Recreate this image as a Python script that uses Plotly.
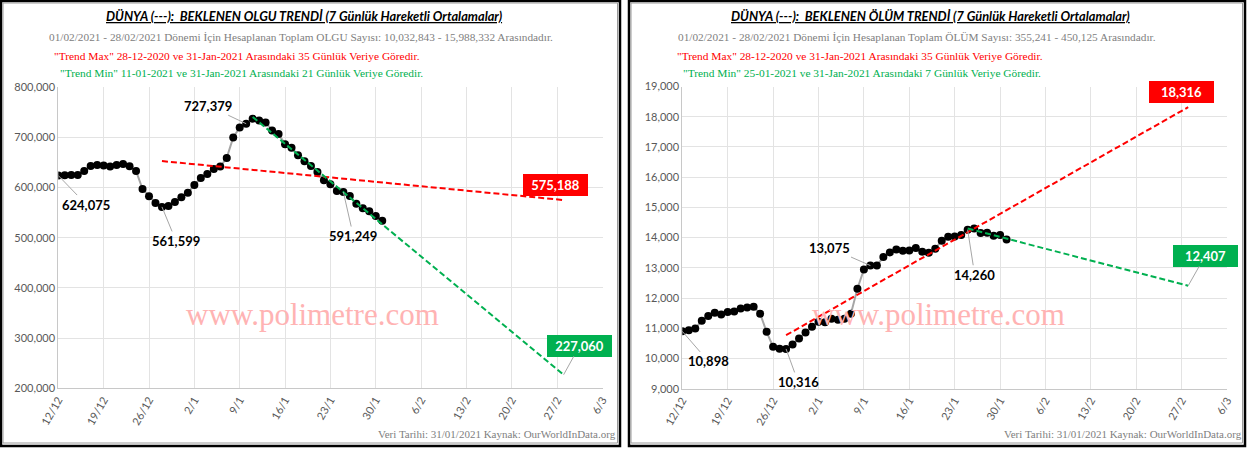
import pandas as pd
import plotly.graph_objects as go

W, H = 1252, 449

# ---------------- data ----------------
dates = pd.date_range("2020-12-12", "2021-01-31", freq="D")

olgu_vals = [624075, 624700, 625000, 625000, 633300, 643300, 645300, 644000, 642000, 645300,
             647300, 642700, 633300, 597300, 582700, 569300, 561599, 563300, 571300, 580700,
             590000, 605300, 619300, 627300, 637300, 642000, 659300, 700000, 720000, 727379,
             737300, 734000, 730000, 714000, 706700, 686700, 679300, 664700, 652700, 643300,
             631300, 614700, 606700, 593300, 591249, 583300, 568000, 558700, 552700, 543300,
             534000]

olum_vals = [10898, 10938, 10993, 11247, 11402, 11512, 11457, 11534, 11556, 11656,
             11689, 11711, 11479, 10883, 10386, 10320, 10316, 10464, 10662, 10861,
             11049, 11214, 11203, 11313, 11280, 11313, 11479, 12307, 12947, 13075,
             13079, 13355, 13510, 13609, 13565, 13576, 13653, 13532, 13499, 13631,
             13896, 14029, 14040, 14084, 14260, 14305, 14150, 14161, 14062, 14084,
             13940]

olgu_tmax_dates = ["2020-12-28", "2021-02-28"]
olgu_tmax_vals = [653000, 575188]
olgu_tmin_dates = ["2021-01-11", "2021-02-28"]
olgu_tmin_vals = [741000, 227060]

olum_tmax_dates = ["2020-12-28", "2021-02-28"]
olum_tmax_vals = [10770, 18316]
olum_tmin_dates = ["2021-01-25", "2021-02-28"]
olum_tmin_vals = [14300, 12407]

label_idx = [0, 16, 29, 44]  # labelled days

tick_dates = ["2020-12-12", "2020-12-19", "2020-12-26", "2021-01-02", "2021-01-09", "2021-01-16",
              "2021-01-23", "2021-01-30", "2021-02-06", "2021-02-13", "2021-02-20", "2021-02-27",
              "2021-03-06"]
tick_labels = ["12/12", "19/12", "26/12", "2/1", "9/1", "16/1", "23/1", "30/1", "6/2", "13/2",
               "20/2", "27/2", "6/3"]

olgu_yticks = [200000, 300000, 400000, 500000, 600000, 700000, 800000]
olum_yticks = [9000, 10000, 11000, 12000, 13000, 14000, 15000, 16000, 17000, 18000, 19000]

# ---------------- style helpers ----------------
def px_x(p):
    return p / W

def px_y(p):
    return 1 - p / H

SANS = "Lato, 'Noto Sans', sans-serif"
SERIF = "'Liberation Serif', 'Times New Roman', serif"
RED = "#ff0000"
GREEN = "#00b050"
GRID = "#e3e3e3"
AXC = "#c8c8c8"
TICKC = "#595959"

fig = go.Figure()

def add_panel(xa, ya, vals, tmax_d, tmax_v, tmin_d, tmin_v):
    fig.add_trace(go.Scatter(x=dates, y=vals, mode="lines+markers",
                             line=dict(color="#a6a6a6", width=2),
                             marker=dict(color="black", size=8),
                             xaxis=xa, yaxis=ya, showlegend=False, hoverinfo="skip"))
    fig.add_trace(go.Scatter(x=tmax_d, y=tmax_v, mode="lines",
                             line=dict(color=RED, width=2, dash="6px,3px"),
                             xaxis=xa, yaxis=ya, showlegend=False, hoverinfo="skip"))
    fig.add_trace(go.Scatter(x=tmin_d, y=tmin_v, mode="lines",
                             line=dict(color=GREEN, width=2, dash="6px,3px"),
                             xaxis=xa, yaxis=ya, showlegend=False, hoverinfo="skip"))

add_panel("x", "y", olgu_vals, olgu_tmax_dates, olgu_tmax_vals, olgu_tmin_dates, olgu_tmin_vals)
add_panel("x2", "y2", olum_vals, olum_tmax_dates, olum_tmax_vals, olum_tmin_dates, olum_tmin_vals)

xcommon = dict(type="date", range=["2020-12-12", "2021-03-06"], tickvals=tick_dates,
               ticktext=tick_labels, tickangle=-60, showgrid=True, gridcolor=GRID,
               showline=True, linecolor=AXC, linewidth=1, ticks="",
               tickfont=dict(family=SANS, size=11, color=TICKC), fixedrange=True)
ycommon = dict(showgrid=True, gridcolor=GRID, showline=True, linecolor=AXC, linewidth=1,
               ticks="", tickformat=",d", tickfont=dict(family=SANS, size=11, color=TICKC),
               zeroline=False, fixedrange=True)

fig.update_layout(
    width=W, height=H, margin=dict(l=0, r=0, t=0, b=0, autoexpand=False),
    paper_bgcolor="white", plot_bgcolor="white", hovermode=False,
    xaxis=dict(domain=[px_x(58.3), px_x(602.5)], anchor="y", **xcommon),
    yaxis=dict(domain=[px_y(388.3), px_y(87.3)], anchor="x", range=[200000, 800000],
               tickvals=olgu_yticks, **ycommon),
    xaxis2=dict(domain=[px_x(682.3), px_x(1227.1)], anchor="y2", **xcommon),
    yaxis2=dict(domain=[px_y(388.7), px_y(86.5)], anchor="x2", range=[9000, 19000],
                tickvals=olum_yticks, **ycommon),
)

ann = []

def fmt(v):
    return f"{v:,}"

# data labels with leader lines
olgu_offsets = [(28, 29), (14, 34), (-38, -18), (10, 44)]
olum_offsets = [(26, 30), (12, 33), (-41, -18), (7, 45)]
for (xa, ya, vals, offs) in [("x", "y", olgu_vals, olgu_offsets), ("x2", "y2", olum_vals, olum_offsets)]:
    for i, (ox, oy) in zip(label_idx, offs):
        ann.append(dict(x=dates[i], y=vals[i], xref=xa, yref=ya, text=f"<b>{fmt(vals[i])}</b>",
                        showarrow=True, arrowhead=0, arrowwidth=1, arrowcolor="#a6a6a6",
                        ax=ox, ay=oy, font=dict(family=SANS, size=13, color="black")))

# end-of-trend boxes
def box(xa, ya, d, v, color, ox, oy, arrow):
    ann.append(dict(x=d, y=v, xref=xa, yref=ya, text=f"<b>{fmt(v)}</b>",
                    showarrow=True, arrowhead=0, arrowwidth=1,
                    arrowcolor="#a6a6a6" if arrow else "rgba(0,0,0,0)",
                    ax=ox, ay=oy, bgcolor=color, bordercolor=color, borderwidth=1,
                    borderpad=1, width=61, height=18,
                    font=dict(family=SANS, size=13, color="white")))

box("x", "y", olgu_tmax_dates[1], olgu_tmax_vals[1], RED, -8, -15, False)
box("x", "y", olgu_tmin_dates[1], olgu_tmin_vals[1], GREEN, 16, -29, True)
box("x2", "y2", olum_tmax_dates[1], olum_tmax_vals[1], RED, -7, -15, False)
box("x2", "y2", olum_tmin_dates[1], olum_tmin_vals[1], GREEN, 17, -30, True)

def ptext(x, y, text, size, color, family, xanchor="center"):
    ann.append(dict(x=px_x(x), y=px_y(y), xref="paper", yref="paper", text=text,
                    showarrow=False, xanchor=xanchor, yanchor="middle",
                    font=dict(family=family, size=size, color=color)))

titles = ["DÜNYA (---):\u00a0 BEKLENEN OLGU TRENDİ (7 Günlük Hareketli Ortalamalar)",
          "DÜNYA (---):\u00a0 BEKLENEN ÖLÜM TRENDİ (7 Günlük Hareketli Ortalamalar)"]
sub1 = ["01/02/2021 - 28/02/2021 Dönemi İçin Hesaplanan Toplam OLGU Sayısı: 10,032,843 - 15,988,332 Arasındadır.",
        "01/02/2021 - 28/02/2021 Dönemi İçin Hesaplanan Toplam ÖLÜM Sayısı: 355,241 - 450,125 Arasındadır."]
sub_max = ["\"Trend Max\" 28-12-2020 ve 31-Jan-2021 Arasındaki 35 Günlük Veriye Göredir.",
           "\"Trend Max\" 28-12-2020 ve 31-Jan-2021 Arasındaki 35 Günlük Veriye Göredir."]
sub_min = ["\"Trend Min\" 11-01-2021 ve 31-Jan-2021 Arasındaki 21 Günlük Veriye Göredir.",
           "\"Trend Min\" 25-01-2021 ve 31-Jan-2021 Arasındaki 7 Günlük Veriye Göredir."]
footer = "Veri Tarihi: 31/01/2021 Kaynak: OurWorldInData.org"

for k, off in enumerate([0, 626]):
    ptext(304 + off, 16, f"<b><i><u>{titles[k]}</u></i></b>", 12.8, "black", SANS)
    ptext(300.6 + off - (10 if k else 0), 37, sub1[k], 11.3, "#808080", SERIF)
    ptext(51.6 + off - (3 if k else 0), 55.5, sub_max[k], 11.4, RED, SERIF, "left")
    ptext(57.5 + off - (3 if k else 0), 73.5, sub_min[k], 11.4, GREEN, SERIF, "left")
    ptext(312 + off, 314, "www.polimetre.com", 31, "#ffb3b3", SERIF)
    ptext(617.5 + off, 433.5, footer, 11, "#808080", SERIF, "right")

fig.update_layout(annotations=ann)

shapes = []
for (x0, x1) in [(0, 621), (628, 1246)]:
    shapes.append(dict(type="rect", xref="paper", yref="paper",
                       x0=px_x(x0 + 1), x1=px_x(x1 - 1), y0=px_y(446), y1=px_y(1),
                       line=dict(color="black", width=2.5)))
    shapes.append(dict(type="rect", xref="paper", yref="paper",
                       x0=px_x(x0 + 3), x1=px_x(x1 - 3.5), y0=px_y(443), y1=px_y(3),
                       line=dict(color="#9a9a9a", width=1)))
fig.update_layout(shapes=shapes)

fix_page = (
    "var s=document.documentElement.style;s.margin='0';s.padding='0';s.overflow='hidden';"
    "var b=document.body.style;b.margin='0';b.padding='0';b.overflow='hidden';"
    "var g=document.getElementById('{plot_id}').style;"
    "g.position='fixed';g.left='0px';g.top='0px';"
)

fig.write_html("out.html", config={"displayModeBar": False, "staticPlot": True},
               post_script=fix_page)
